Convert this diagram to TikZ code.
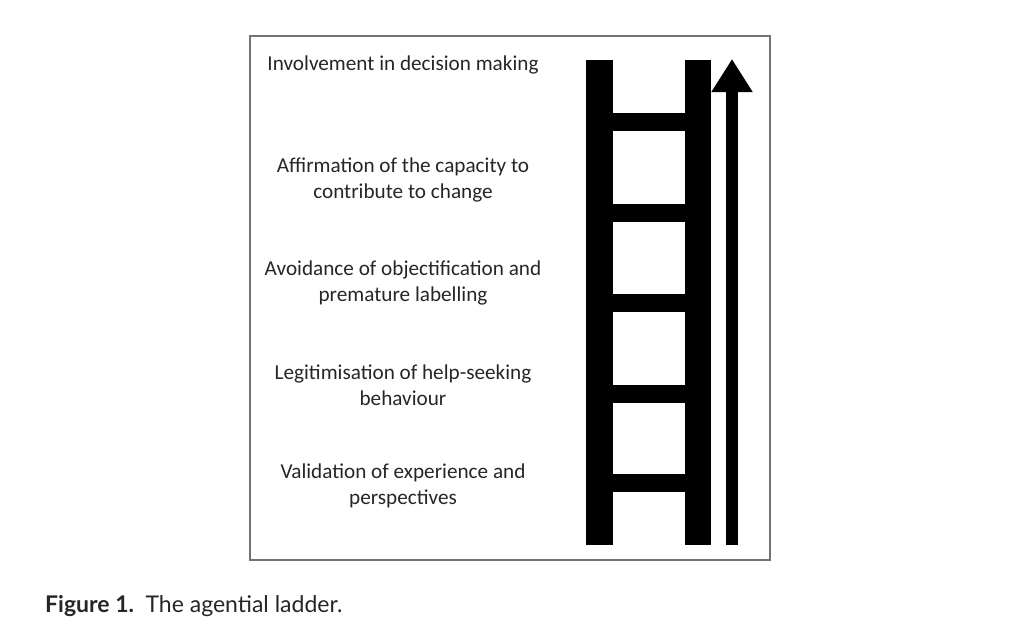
\documentclass[tikz,border=0pt]{standalone}
\usepackage{fontspec}
\setmainfont{Carlito}
\newfontfamily\capfont{Lato}
\usetikzlibrary{arrows.meta}
\begin{document}
\begin{tikzpicture}[x=1pt, y=-1pt]
  \tikzset{
    step_label/.style={align=center, text=black!85, font=\fontsize{21.2}{26}\selectfont, inner sep=0pt},
    ladder_bar/.style={fill=black, draw=none},
    up_arrow/.style={line width=12pt, -{Triangle[width=39pt, length=33pt]}}
  }
  \useasboundingbox (0,0) rectangle (1024,637);

  % Marco de la figura
  \draw[black!55, line width=1.3pt] (250,36) rectangle (770,560);

  % Peldaños (de arriba hacia abajo)
  \node[step_label] (decision) at (403,65) {Involvement in decision making};
  \node[step_label] (capacity) at (403,180) {Affirmation of the capacity to\\contribute to change};
  \node[step_label] (labelling) at (403,283) {Avoidance of objectification and\\premature labelling};
  \node[step_label] (help) at (403,385) {Legitimisation of help-seeking\\behaviour};
  \node[step_label] (validation) at (403,486) {Validation of experience and\\perspectives};

  % Escalera
  \fill[ladder_bar] (586,60) rectangle (613,545);
  \fill[ladder_bar] (685,60) rectangle (711,545);
  \foreach \y in {113,204,294,385,474}
    \fill[ladder_bar] (613,\y) rectangle (685,\y+18);

  % Flecha hacia arriba
  \coordinate (arrow_foot) at (732,545);
  \coordinate (arrow_tip) at (732,59);
  \draw[up_arrow] (arrow_foot) -- (arrow_tip);

  % Leyenda
  \node[anchor=base west, inner sep=0pt, text=black!85, font=\capfont\fontsize{23}{26}\selectfont] (caption) at (45,612)
    {\textbf{Figure 1.}\hspace{0.5em}The agential ladder.};
\end{tikzpicture}
\end{document}
